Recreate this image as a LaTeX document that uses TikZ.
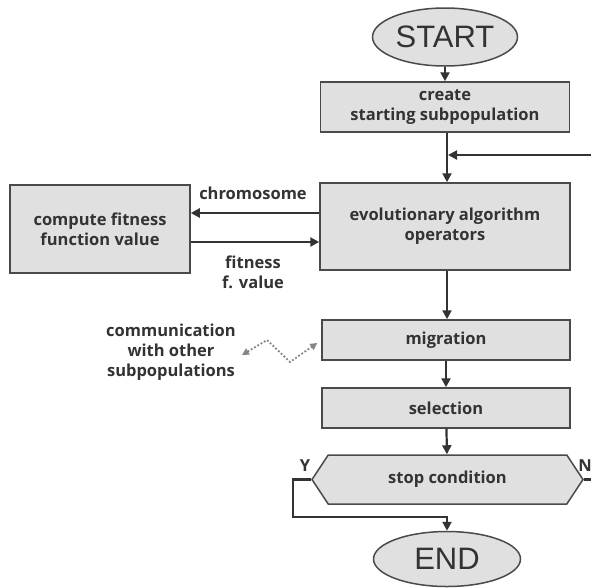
\documentclass[tikz,border=0pt]{standalone}
\usepackage{fontspec}
\setmainfont{Open Sans}
\newfontfamily\titlefont{Liberation Sans}
\usetikzlibrary{arrows.meta,shapes.geometric,shapes.symbols}
\definecolor{ink}{HTML}{333333}
\definecolor{edge}{HTML}{4A4A4A}
\definecolor{boxfill}{HTML}{E0E0E0}
\definecolor{zig}{HTML}{858585}
\tikzset{
  txt/.style={font=\fontsize{16.5}{20}\selectfont\bfseries},
  block/.style={txt, draw=edge, line width=1.5pt, fill=boxfill, inner sep=0pt,
    align=center, text=ink},
  terminal/.style={ellipse, draw=edge, line width=1.5pt, fill=boxfill, inner sep=0pt,
    text=ink, font=\titlefont\fontsize{31}{34}\selectfont},
  decision/.style={txt, signal, signal to=west and east, signal pointer angle=113,
    draw=edge, line width=1.5pt, fill=boxfill, inner sep=0pt, text=ink},
  lbl/.style={txt, text=ink, align=center, inner sep=0pt},
  arr/.style={draw=ink, line width=2.2pt, -{Triangle[length=9pt,width=9pt]}},
  plain/.style={draw=ink, line width=2.2pt},
  zigline/.style={draw=zig, line width=1.8pt, dotted,
    {Triangle[length=7pt,width=7pt]}-{Triangle[length=7pt,width=7pt]}}
}
\begin{document}
\begin{tikzpicture}[x=1pt,y=-1pt]
\useasboundingbox (0,0) rectangle (591,587);
\fill[white] (0,0) rectangle (591,587);

% main column
\node[terminal, minimum width=145pt, minimum height=58pt] (start) at (445,37) {START};
\node[block, minimum width=249pt, minimum height=50pt] (create) at (445,107) {create\\starting subpopulation};
\node[block, minimum width=250pt, minimum height=87pt] (ops) at (445,226.5) {evolutionary algorithm\\operators};
\node[block, minimum width=248pt, minimum height=40pt] (migration) at (446,340) {migration};
\node[block, minimum width=248pt, minimum height=40pt] (selection) at (446,408) {selection};
\node[decision, minimum width=271pt, minimum height=49pt] (stop) at (447.5,479.5) {stop condition};
\node[terminal, minimum width=147pt, minimum height=55pt] (end) at (447,559) {END};

% fitness evaluation
\node[block, minimum width=180pt, minimum height=88pt] (compute) at (100,229) {compute fitness\\function value};
\node[lbl] (chrom) at (253,193) {chromosome};
\node[lbl] (fit) at (253,272) {fitness\\f. value};

% migration partner
\node[lbl] (comm) at (171,352) {communication\\with other\\subpopulations};
\node[lbl] (yes) at (305,466) {Y};
\node[lbl] (no) at (585,466) {N};

% helper points
\coordinate (join) at (447,155);
\coordinate (yleft) at (293,517);
\coordinate (nright) at (606,480);
\coordinate (z1) at (267,340);
\coordinate (z2) at (290,362);

% flow
\draw[arr] (start) -- (create);
\draw[arr] (create.south -| join) -- (ops.north -| join);
\draw[arr] (nright |- stop.east) -- (nright) |- ([xshift=1pt]join);
\draw[plain] (stop.east) -- (nright |- stop.east);
\draw[arr] (ops.south -| join) -- (migration.north -| join);
\draw[arr] (migration) -- (selection);
\draw[arr] (selection) -- (stop);
\draw[arr] (stop.west) -| (yleft) -| (end.north);

% fitness exchange
\draw[arr] ([yshift=13.5pt]ops.west) -- ([yshift=13.5pt]ops.west -| compute.east);
\draw[arr] ([yshift=-15.5pt]ops.west -| compute.east) -- ([yshift=-15.5pt]ops.west);

% communication link
\draw[zigline] ([xshift=6pt,yshift=-3pt]comm.east) -- (z1) -- (z2) -- ([xshift=-4pt,yshift=-3pt]migration.west);
\end{tikzpicture}
\end{document}
